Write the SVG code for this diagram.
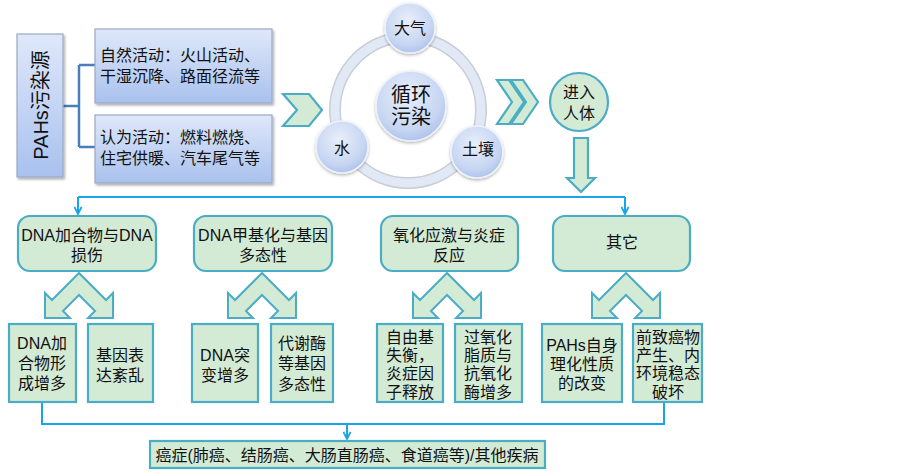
<svg xmlns="http://www.w3.org/2000/svg" xmlns:xlink="http://www.w3.org/1999/xlink" width="903" height="472" viewBox="0 0 903 472">
<defs>
<style>
text{font-family:"Liberation Sans","Noto Sans CJK SC",sans-serif;fill:#111;dominant-baseline:central}
.t16{font-size:16px}
.mid{text-anchor:middle}
.bluebox{fill:url(#gBlue);stroke:#9aaac4;stroke-width:1.2;filter:url(#sh)}
.green{fill:#d3ead5;stroke:#4bacc6;stroke-width:2.2}
.gcirc{fill:url(#gCirc);stroke:#eef3fb;stroke-width:1.5;filter:url(#sh2)}
.conn{fill:none;stroke:#1aa3e8;stroke-width:2}
.brk{fill:none;stroke:#4a7ebb;stroke-width:2.5}
</style>
<linearGradient id="gBlue" x1="0" y1="0" x2="0" y2="1">
<stop offset="0" stop-color="#dfe8fa"/>
<stop offset="1" stop-color="#a9c1ee"/>
</linearGradient>
<radialGradient id="gCirc" cx="0.45" cy="0.35" r="0.7">
<stop offset="0" stop-color="#e9effb"/>
<stop offset="0.7" stop-color="#c6d5f2"/>
<stop offset="1" stop-color="#a8bfea"/>
</radialGradient>
<filter id="sh" x="-10%" y="-10%" width="130%" height="130%">
<feDropShadow dx="1.5" dy="2" stdDeviation="1.2" flood-color="#000" flood-opacity="0.3"/>
</filter>
<filter id="sh2" x="-20%" y="-20%" width="140%" height="140%">
<feDropShadow dx="0" dy="1.5" stdDeviation="1.5" flood-color="#000" flood-opacity="0.3"/>
</filter>
<marker id="ah" viewBox="0 0 10 10" refX="9" refY="5" markerWidth="9" markerHeight="9" markerUnits="userSpaceOnUse" orient="auto">
<path d="M1,1 L9,5 L1,9" fill="none" stroke="#1aa3e8" stroke-width="2"/>
</marker>
<polygon id="split" points="0,0 -27,27 -34,20 -34,45 -9,45 -16,38 0,22 16,38 9,45 34,45 34,20 27,27" fill="#d3ead5" stroke="#4bacc6" stroke-width="2" stroke-linejoin="miter"/>
</defs>

<g id="connectors">
<path class="brk" d="M63,106 H79 M79,65 H95 M79,147 H95 M79,65 V147"/>
<path class="conn" d="M78,197 H625"/>
<path class="conn" d="M78,197 V214" marker-end="url(#ah)"/>
<path class="conn" d="M625,197 V214" marker-end="url(#ah)"/>
<path class="conn" d="M42,402 V424 H664 V402"/>
<path class="conn" d="M347,424 V439" marker-end="url(#ah)"/>
</g>

<g id="src">
<rect class="bluebox" x="17" y="34" width="46" height="143"/>
<text transform="translate(41,105) rotate(-90)" class="mid" style="font-size:20px">PAHs污染源</text>
</g>
<g id="natural">
<rect class="bluebox" x="95" y="29" width="177" height="74"/>
<text class="t16" x="100" y="55">自然活动：火山活动、</text>
<text class="t16" x="100" y="76">干湿沉降、路面径流等</text>
</g>
<g id="human">
<rect class="bluebox" x="95" y="115" width="177" height="68"/>
<text class="t16" x="100" y="137">认为活动：燃料燃烧、</text>
<text class="t16" x="100" y="158">住宅供暖、汽车尾气等</text>
</g>

<g id="chev1">
<polygon class="green" points="283,94 309,94 322,110 309,126 283,126 297,110"/>
</g>

<g id="cycle">
<circle cx="408" cy="110" r="73" fill="none" stroke="#c9cdd6" stroke-width="12"/>
<circle cx="408" cy="110" r="73" fill="none" stroke="#e2e9f6" stroke-width="9"/>
<circle class="gcirc" cx="411" cy="106" r="35"/>
<text class="mid" style="font-size:20px" x="411" y="95">循环</text>
<text class="mid" style="font-size:20px" x="411" y="117">污染</text>
<circle class="gcirc" cx="410" cy="28" r="25"/>
<text class="t16 mid" x="410" y="28">大气</text>
<circle class="gcirc" cx="342" cy="147" r="26"/>
<text class="t16 mid" x="342" y="148">水</text>
<circle class="gcirc" cx="477" cy="152" r="26"/>
<text class="t16 mid" x="478" y="149">土壤</text>
</g>

<g id="chev2">
<polygon class="green" points="497,80 509,80 524,102 509,124 497,124 512,102"/>
<polygon class="green" points="511,80 523,80 538,102 523,124 511,124 526,102"/>
</g>

<g id="body">
<circle class="green" cx="579" cy="102" r="29"/>
<text class="t16 mid" x="579" y="92">进入</text>
<text class="t16 mid" x="579" y="113">人体</text>
</g>
<g id="downArrow">
<polygon class="green" points="574,138 588,138 588,178 595,178 581,192 567,178 574,178"/>
</g>

<g id="nA">
<rect class="green" x="18" y="216" width="138" height="55" rx="12"/>
<text class="t16 mid" x="87" y="235">DNA加合物与DNA</text>
<text class="t16 mid" x="87" y="255">损伤</text>
</g>
<g id="nB">
<rect class="green" x="194" y="216" width="138" height="55" rx="12"/>
<text class="t16 mid" x="263" y="235">DNA甲基化与基因</text>
<text class="t16 mid" x="263" y="255">多态性</text>
</g>
<g id="nC">
<rect class="green" x="381" y="216" width="137" height="55" rx="12"/>
<text class="t16 mid" x="449" y="235">氧化应激与炎症</text>
<text class="t16 mid" x="449" y="255">反应</text>
</g>
<g id="nD">
<rect class="green" x="553" y="216" width="137" height="55" rx="12"/>
<text class="t16 mid" x="622" y="242">其它</text>
</g>

<g id="splits">
<use xlink:href="#split" href="#split" transform="translate(79,273)"/>
<use xlink:href="#split" href="#split" transform="translate(262,273)"/>
<use xlink:href="#split" href="#split" transform="translate(447,273)"/>
<use xlink:href="#split" href="#split" transform="translate(626,273)"/>
</g>

<g id="leafA1">
<rect class="green" x="9" y="324" width="67" height="78"/>
<text class="t16 mid" x="42" y="343">DNA加</text>
<text class="t16 mid" x="42" y="363">合物形</text>
<text class="t16 mid" x="42" y="383">成增多</text>
</g>
<g id="leafA2">
<rect class="green" x="88" y="324" width="65" height="78"/>
<text class="t16 mid" x="120" y="355">基因表</text>
<text class="t16 mid" x="120" y="375">达紊乱</text>
</g>
<g id="leafB1">
<rect class="green" x="192" y="324" width="66" height="78"/>
<text class="t16 mid" x="225" y="355">DNA突</text>
<text class="t16 mid" x="225" y="375">变增多</text>
</g>
<g id="leafB2">
<rect class="green" x="271" y="324" width="62" height="78"/>
<text class="t16 mid" x="302" y="343">代谢酶</text>
<text class="t16 mid" x="302" y="363">等基因</text>
<text class="t16 mid" x="302" y="384">多态性</text>
</g>
<g id="leafC1">
<rect class="green" x="377" y="324" width="66" height="78"/>
<text class="t16 mid" x="410" y="337">自由基</text>
<text class="t16 mid" x="410" y="355">失衡，</text>
<text class="t16 mid" x="410" y="373">炎症因</text>
<text class="t16 mid" x="410" y="392">子释放</text>
</g>
<g id="leafC2">
<rect class="green" x="455" y="324" width="67" height="78"/>
<text class="t16 mid" x="488" y="337">过氧化</text>
<text class="t16 mid" x="488" y="355">脂质与</text>
<text class="t16 mid" x="488" y="373">抗氧化</text>
<text class="t16 mid" x="488" y="392">酶增多</text>
</g>
<g id="leafD1">
<rect class="green" x="542" y="324" width="80" height="78"/>
<text class="t16 mid" x="582" y="345">PAHs自身</text>
<text class="t16 mid" x="582" y="364">理化性质</text>
<text class="t16 mid" x="582" y="383">的改变</text>
</g>
<g id="leafD2">
<rect class="green" x="633" y="324" width="69" height="78"/>
<text class="t16 mid" x="668" y="337">前致癌物</text>
<text class="t16 mid" x="668" y="355">产生、内</text>
<text class="t16 mid" x="668" y="373">环境稳态</text>
<text class="t16 mid" x="668" y="392">破坏</text>
</g>

<g id="result">
<rect class="green" x="150" y="441" width="395" height="27"/>
<text class="t16 mid" x="347" y="455">癌症(肺癌、结肠癌、大肠直肠癌、食道癌等)/其他疾病</text>
</g>
</svg>
